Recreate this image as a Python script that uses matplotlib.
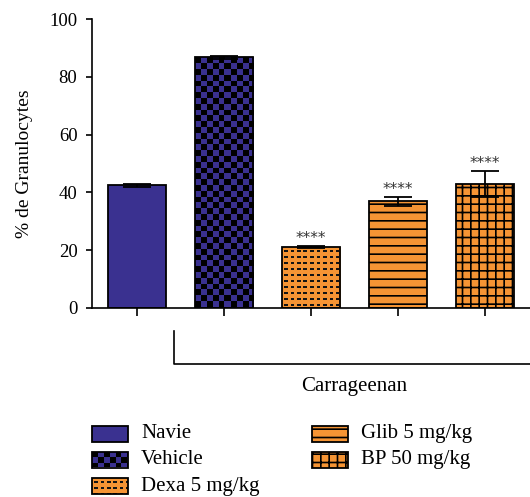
import numpy as np
import matplotlib
matplotlib.use("Agg")
import matplotlib.pyplot as plt
from matplotlib.patches import Rectangle
from matplotlib.colors import to_rgb

# data
groups = ["Navie", "Vehicle", "Dexa 5 mg/kg", "Glib 5 mg/kg", "BP 50 mg/kg"]
means = [42.4, 86.7, 21.1, 36.9, 42.8]
errors = [0.4, 0.6, 0.3, 1.5, 4.5]
stars = ["", "", "****", "****", "****"]
y_ticks = [0, 20, 40, 60, 80, 100]
bracket_label = "Carrageenan"
ylabel = "% de Granulocytes"

BLUE = "#3a3190"
ORANGE = "#f59434"
# fill style per group: (facecolor, pattern)
styles = [(BLUE, None), ("none", "checker"), ("none", "dash"),
          (ORANGE, "--"), (ORANGE, "++")]

plt.rcParams['font.family'] = ['Liberation Serif', 'DejaVu Serif']
plt.rcParams['hatch.linewidth'] = 1.2
plt.rcParams['hatch.color'] = 'black'

W, H = 530, 497
fig = plt.figure(figsize=(W / 100, H / 100), dpi=100)
ax = fig.add_axes([92 / W, 1 - 308 / H, 438 / W, 289 / H])
XLIM = (-0.517, 4.517)
YLIM = (0, 100)
ax.set_xlim(*XLIM)
ax.set_ylim(*YLIM)


def pattern_img(kind, w, h):
    yy, xx = np.mgrid[0:h, 0:w]
    if kind == "checker":
        img = np.zeros((h, w, 3))
        m = ((xx // 5.8 + yy // 5.8) % 2).astype(bool)
        img[m] = to_rgb(BLUE)
    else:
        img = np.tile(np.array(to_rgb(ORANGE)), (h, w, 1))
        m = (((yy - 3) % 6) < 2) & (((xx - 2) % 6.3) < 3.5)
        img[m] = to_rgb("#141414")
    return img


def fill_pattern(axis, patch, kind, x0, x1, y0, y1):
    p0 = axis.transData.transform((x0, y0))
    p1 = axis.transData.transform((x1, y1))
    w = max(int(round(abs(p1[0] - p0[0]))), 1)
    h = max(int(round(abs(p1[1] - p0[1]))), 1)
    im = axis.imshow(pattern_img(kind, w, h), extent=(x0, x1, y0, y1),
                     aspect='auto', interpolation='nearest', origin='upper',
                     zorder=1.5)
    im.set_clip_path(patch)


x = np.arange(len(groups))
bars = ax.bar(x, means, width=0.672, color=[s[0] for s in styles],
              edgecolor='black', linewidth=1.3, zorder=2)
for bar, (fc, pat) in zip(bars, styles):
    if pat in ("checker", "dash"):
        fill_pattern(ax, bar, pat, bar.get_x(), bar.get_x() + bar.get_width(),
                     0, bar.get_height())
    elif pat:
        bar.set_hatch(pat)

ax.errorbar(x, means, yerr=errors, fmt='none', ecolor='black',
            elinewidth=1.3, capsize=10, capthick=1.3, zorder=3)

for xi, m, e, s in zip(x, means, errors, stars):
    if s:
        ax.annotate(s, (xi, m + e), xytext=(0, 0), textcoords='offset points',
                    ha='center', va='bottom', fontsize=11, color='#333333',
                    family='DejaVu Sans')

ax.set_xlim(*XLIM)
ax.set_ylim(*YLIM)
ax.set_xticks(x)
ax.set_xticklabels([])
ax.set_yticks(y_ticks)
ax.tick_params(axis='y', direction='out', length=4.5, width=1.2,
               labelsize=13.5, pad=6)
ax.tick_params(axis='x', direction='out', length=5.5, width=1.2)
for side in ('top', 'right'):
    ax.spines[side].set_visible(False)
for side in ('left', 'bottom'):
    ax.spines[side].set_linewidth(1.2)
ax.set_ylabel(ylabel, fontsize=14)
ax.yaxis.set_label_coords(-0.135, 0.5)

# overlay in pixel coordinates for bracket and legend
ov = fig.add_axes([0, 0, 1, 1])
ov.set_xlim(0, W)
ov.set_ylim(0, H)
ov.axis('off')
ov.plot([174, 174, W], [H - 331, H - 364, H - 364], color='black', lw=1.2)
ov.text(354, H - 386, bracket_label, ha='center', va='center', fontsize=15)

leg_pos = [(92, 433.5), (92, 459.5), (92, 486), (312, 433.5), (312, 459.5)]
for (lx, ly), name, (fc, pat) in zip(leg_pos, groups, styles):
    y0 = H - ly - 8
    rect = Rectangle((lx, y0), 36, 16, facecolor=fc, edgecolor='black',
                     linewidth=1.3, zorder=2)
    ov.add_patch(rect)
    if pat in ("checker", "dash"):
        fill_pattern(ov, rect, pat, lx, lx + 36, y0, y0 + 16)
    elif pat:
        rect.set_hatch(pat)
    ov.text(lx + 49, H - ly, name, ha='left', va='center', fontsize=15)
ov.set_xlim(0, W)
ov.set_ylim(0, H)

fig.savefig("out.png", dpi=100)
